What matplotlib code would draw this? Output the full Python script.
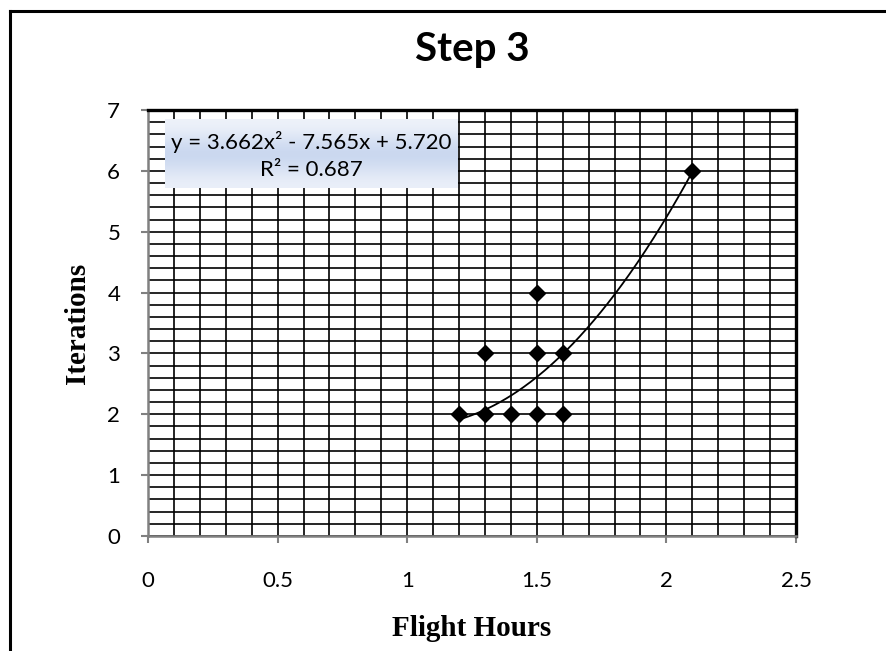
import numpy as np
import matplotlib.pyplot as plt
from matplotlib.lines import Line2D
from matplotlib.colors import LinearSegmentedColormap
from matplotlib.ticker import MultipleLocator

flight_hours = [1.2, 1.3, 1.4, 1.5, 1.6, 1.3, 1.5, 1.6, 1.5, 2.1]
iterations = [2, 2, 2, 2, 2, 3, 3, 3, 4, 6]
# trendline shown on the chart
coef = [3.662, -7.565, 5.720]
r2 = 0.687

fig = plt.figure(figsize=(8.86, 6.51), dpi=100)
ax = fig.add_axes([148 / 886, 115 / 651, 648 / 886, 426 / 651])

# outer chart border, only top and left fall inside the picture
top = 1 - 11 / 651
left = 10 / 886
fig.add_artist(Line2D([left, 1.0], [top, top], color='black', linewidth=2.2,
                      transform=fig.transFigure))
fig.add_artist(Line2D([left, left], [0, top], color='black', linewidth=2.2,
                      transform=fig.transFigure))

ax.xaxis.set_major_locator(MultipleLocator(0.5))
ax.xaxis.set_minor_locator(MultipleLocator(0.1))
ax.yaxis.set_major_locator(MultipleLocator(1))
ax.yaxis.set_minor_locator(MultipleLocator(0.2))
ax.grid(which='both', color='black', linewidth=1.2)
ax.set_axisbelow(True)

for side in ['left', 'bottom']:
    ax.spines[side].set_color('#808080')
    ax.spines[side].set_linewidth(1.8)
for side in ['top', 'right']:
    ax.spines[side].set_color('black')
    ax.spines[side].set_linewidth(2.4)

ax.tick_params(which='major', length=5, width=1.5, color='#808080',
               labelsize=16)
ax.tick_params(axis='x', which='major', pad=20)
ax.tick_params(axis='y', which='major', pad=15)
ax.tick_params(which='minor', length=0)

xs = np.linspace(min(flight_hours), max(flight_hours), 200)
ax.plot(xs, np.polyval(coef, xs), color='black', linewidth=1.3, zorder=3)
ax.plot(flight_hours, iterations, linestyle='none', marker='D',
        markersize=8, color='black', zorder=4)

# equation box with a soft blue gradient
grad = np.array([[0.0], [0.5], [1.0], [0.6], [0.1]])
cmap = LinearSegmentedColormap.from_list('eq', ['#eef2fa', '#c5d4ee'])
ax.imshow(grad, extent=(0.026, 0.477, 0.817, 0.977), transform=ax.transAxes,
          cmap=cmap, aspect='auto', interpolation='bicubic', zorder=5)
ax.set_xlim(0, 2.5)
ax.set_ylim(0, 7)
ax.set_xticks(np.arange(0, 2.51, 0.5))
ax.set_xticklabels(['0', '0.5', '1', '1.5', '2', '2.5'])
ax.set_yticks(range(8))
for lab in ax.get_xticklabels() + ax.get_yticklabels():
    lab.set_family('Lato')

ax.text(0.2515, 0.925, f'y = {coef[0]:.3f}x² - {-coef[1]:.3f}x + {coef[2]:.3f}',
        transform=ax.transAxes, ha='center', va='center', fontsize=16,
        family='Lato', zorder=6)
ax.text(0.2515, 0.859, f'R² = {r2:.3f}', transform=ax.transAxes,
        ha='center', va='center', fontsize=16, family='Lato', zorder=6)

fig.text(472 / 886, 1 - 50 / 651, 'Step 3', ha='center', va='center',
         fontsize=29, fontweight='bold', family='Lato')
fig.text(472 / 886, 1 - 628 / 651, 'Flight Hours', ha='center', va='center',
         fontsize=21, fontweight='bold', family='Liberation Serif')
fig.text(77 / 886, 1 - 323 / 651, 'Iterations', ha='center', va='center',
         rotation=90, fontsize=21, fontweight='bold', family='Liberation Serif')

fig.savefig('out.png', dpi=100)
